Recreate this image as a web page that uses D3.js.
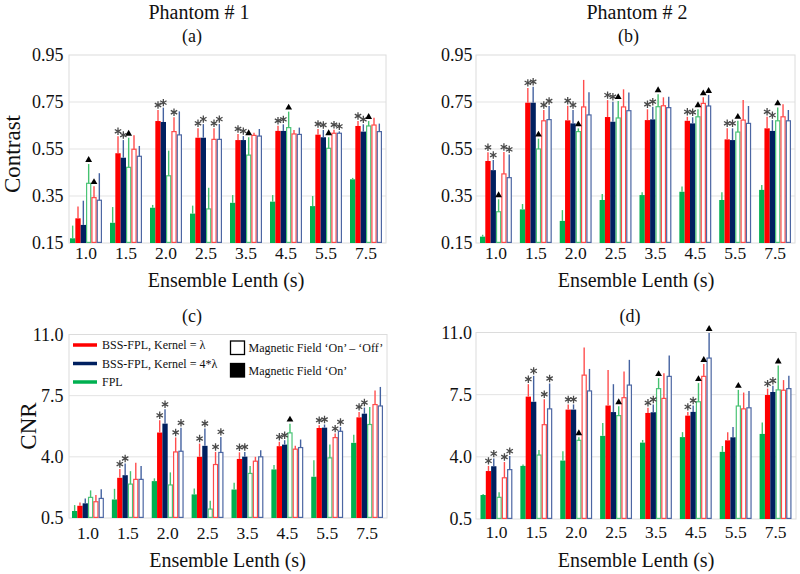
<!DOCTYPE html>
<html>
<head>
<meta charset="utf-8">
<script src="https://cdn.jsdelivr.net/npm/d3@7/dist/d3.min.js"></script>
<style>
  body { margin: 0; background: #fff; }
  svg { display: block; }
  text { font-family: "Liberation Serif", "Times New Roman", Times, "DejaVu Serif", serif; }
</style>
</head>
<body>
<script>
// ---------------- DATA ----------------
const categories = ["1.0", "1.5", "2.0", "2.5", "3.5", "4.5", "5.5", "7.5"];
// series order: FPL (On), BSS-FPL λ (On), BSS-FPL 4λ (On), FPL (On−Off), BSS-FPL λ (On−Off), BSS-FPL 4λ (On−Off)
const seriesNames = ["FPL On", "BSS-FPL λ On", "BSS-FPL 4*λ On", "FPL On–Off", "BSS-FPL λ On–Off", "BSS-FPL 4*λ On–Off"];

const contrastTicks = [0.15, 0.35, 0.55, 0.75, 0.95];
const cnrTicks = [0.5, 4.0, 7.5, 11.0];

// Panel (a): Contrast, Phantom #1
const aFplOn      = [0.170, 0.236, 0.300, 0.275, 0.321, 0.326, 0.307, 0.421];
const aBssLOn     = [0.255, 0.532, 0.669, 0.598, 0.588, 0.627, 0.611, 0.648];
const aBss4On     = [0.227, 0.513, 0.665, 0.598, 0.588, 0.627, 0.600, 0.624];
const aFplDiff    = [0.404, 0.472, 0.436, 0.295, 0.524, 0.641, 0.553, 0.648];
const aBssLDiff   = [0.343, 0.549, 0.624, 0.591, 0.608, 0.614, 0.617, 0.652];
const aBss4Diff   = [0.332, 0.519, 0.610, 0.591, 0.605, 0.612, 0.617, 0.624];
const aErrFplOn    = [0.054, 0.067, 0.012, 0.034, 0.033, 0.028, 0.043, 0.006];
const aErrBssLOn   = [0.050, 0.072, 0.047, 0.040, 0.026, 0.022, 0.024, 0.021];
const aErrBss4On   = [0.103, 0.075, 0.061, 0.058, 0.017, 0.028, 0.031, 0.031];
const aErrFplDiff  = [0.082, 0.126, 0.107, 0.090, 0.076, 0.068, 0.047, 0.021];
const aErrBssLDiff = [0.049, 0.059, 0.061, 0.047, 0.011, 0.017, 0.015, 0.031];
const aErrBss4Diff = [0.115, 0.044, 0.100, 0.065, 0.030, 0.029, 0.008, 0.034];
const aMarks = ["...^^.", ".**^..", ".**.*.", ".**.**", ".**^..", ".**^..", ".**^**", ".**^.."];

// Panel (b): Contrast, Phantom #2
const bFplOn      = [0.177, 0.293, 0.244, 0.333, 0.354, 0.368, 0.333, 0.376];
const bBssLOn     = [0.499, 0.747, 0.672, 0.686, 0.673, 0.670, 0.591, 0.638];
const bBss4On     = [0.460, 0.747, 0.659, 0.666, 0.676, 0.659, 0.588, 0.627];
const bFplDiff    = [0.283, 0.550, 0.624, 0.682, 0.730, 0.687, 0.622, 0.670];
const bBssLDiff   = [0.444, 0.670, 0.729, 0.729, 0.734, 0.744, 0.673, 0.687];
const bBss4Diff   = [0.428, 0.675, 0.695, 0.713, 0.726, 0.733, 0.659, 0.670];
const bErrFplOn    = [0.008, 0.023, 0.046, 0.025, 0.012, 0.022, 0.033, 0.021];
const bErrBssLOn   = [0.037, 0.063, 0.062, 0.072, 0.046, 0.017, 0.047, 0.049];
const bErrBss4On   = [0.043, 0.068, 0.057, 0.085, 0.054, 0.026, 0.050, 0.046];
const bErrFplDiff  = [0.053, 0.044, 0.014, 0.072, 0.053, 0.032, 0.048, 0.057];
const bErrBssLDiff = [0.093, 0.046, 0.115, 0.075, 0.036, 0.026, 0.085, 0.053];
const bErrBss4Diff = [0.099, 0.058, 0.096, 0.077, 0.046, 0.047, 0.074, 0.046];
const bMarks = [".**^**", ".**^**", ".**^..", ".**^..", ".**^..", ".**^^^", ".**^..", ".**^.."];

// Panel (c): CNR, Phantom #1
const cFplOn      = [0.90, 1.56, 2.61, 1.85, 2.13, 3.28, 2.86, 4.80];
const cBssLOn     = [1.20, 2.80, 5.39, 4.00, 3.88, 4.61, 5.65, 6.26];
const cBss4On     = [1.34, 2.95, 5.90, 4.63, 4.01, 4.70, 5.67, 6.47];
const cFplDiff    = [1.68, 2.44, 2.39, 1.01, 3.05, 5.37, 3.94, 5.85];
const cBssLDiff   = [1.43, 2.71, 4.28, 3.56, 3.75, 4.44, 5.10, 6.99];
const cBss4Diff   = [1.62, 2.71, 4.32, 4.25, 4.00, 4.53, 5.46, 6.91];
const cErrFplOn    = [0.34, 0.61, 0.16, 0.34, 0.38, 0.25, 0.95, 0.47];
const cErrBssLOn   = [0.19, 0.50, 0.70, 0.76, 0.38, 0.25, 0.16, 0.31];
const cErrBss4On   = [0.28, 0.67, 0.82, 0.99, 0.27, 0.25, 0.18, 0.35];
const cErrFplDiff  = [0.40, 0.74, 0.72, 0.48, 0.43, 0.53, 0.76, 1.00];
const cErrBssLDiff = [0.38, 0.95, 0.83, 0.72, 0.25, 0.19, 0.23, 0.81];
const cErrBss4Diff = [0.53, 0.77, 1.34, 0.89, 0.38, 0.46, 0.25, 1.09];
const cMarks = ["......", ".**...", ".**.**", ".**.**", ".**...", ".**^..", ".**.**", ".**..."];

// Panel (d): CNR, Phantom #2
const dFplOn      = [1.85, 3.49, 3.79, 5.18, 4.80, 5.11, 4.28, 5.29];
const dBssLOn     = [3.20, 7.39, 6.66, 6.89, 6.47, 6.32, 4.93, 7.48];
const dBss4On     = [3.47, 7.10, 6.66, 6.52, 6.51, 6.53, 5.10, 7.65];
const dFplDiff    = [1.72, 4.10, 4.93, 6.32, 7.84, 7.10, 6.86, 7.77];
const dBssLDiff   = [2.82, 5.81, 8.60, 7.33, 7.29, 8.53, 6.70, 7.75];
const dBss4Diff   = [3.28, 6.70, 7.71, 8.04, 8.53, 9.56, 6.76, 7.84];
const dErrFplOn    = [0.06, 0.08, 0.53, 0.72, 0.15, 0.28, 0.33, 0.65];
const dErrBssLOn   = [0.29, 0.70, 0.29, 2.00, 0.29, 0.21, 0.46, 0.36];
const dErrBss4On   = [0.43, 1.46, 0.29, 1.57, 0.44, 0.36, 0.58, 0.35];
const dErrFplDiff  = [0.28, 0.28, 0.17, 0.53, 0.59, 1.05, 0.91, 1.37];
const dErrBssLDiff = [0.89, 1.43, 1.55, 1.47, 1.41, 0.70, 0.92, 0.57];
const dErrBss4Diff = [0.76, 1.43, 1.24, 1.42, 1.18, 1.41, 0.95, 0.72];
const dMarks = [".**.**", ".**.**", ".**^..", "...^..", ".**^..", ".**^^^", "...^..", ".**^.."];

const legendLabels = ["BSS-FPL, Kernel = λ", "BSS-FPL, Kernel = 4*λ", "FPL"];
const legendBoxLabels = ["Magnetic Field ‘On’ – ‘Off’", "Magnetic Field ‘On’"];

// ---------------- STYLE ----------------
const FONT = '"Liberation Serif", "Times New Roman", Times, "DejaVu Serif", serif';
const fillColors   = ["#00b050", "#ff0000", "#002060"];
const strokeColors = ["#4cc477", "#ff4a4a", "#4d67a3"];
const errColors    = ["#45c270", "#ff4d4d", "#4462a0"];

// ---------------- LAYOUT ----------------
const panels = [
  { vals: [aFplOn, aBssLOn, aBss4On, aFplDiff, aBssLDiff, aBss4Diff],
    errs: [aErrFplOn, aErrBssLOn, aErrBss4On, aErrFplDiff, aErrBssLDiff, aErrBss4Diff],
    marks: aMarks, ticks: contrastTicks, fmt: d3.format(".2f"),
    left: 69, right: 386, bandL: 66, bandR: 386, top: 55, bottom: 243,
    xLabTop: 247, yLabRight: 63.5, ylabel: "Contrast", ylabX: 20, ylabY: 154,
    title: "Phantom # 1", titleX: 199, sub: "(a)", subX: 192, subY: 42,
    xTitleX: 226, xTitleY: 287 },
  { vals: [bFplOn, bBssLOn, bBss4On, bFplDiff, bBssLDiff, bBss4Diff],
    errs: [bErrFplOn, bErrBssLOn, bErrBss4On, bErrFplDiff, bErrBssLDiff, bErrBss4Diff],
    marks: bMarks, ticks: contrastTicks, fmt: d3.format(".2f"),
    left: 476, right: 795, bandL: 476, bandR: 795, top: 55, bottom: 243,
    xLabTop: 247, yLabRight: 472.5, ylabel: null,
    title: "Phantom # 2", titleX: 637, sub: "(b)", subX: 628.5, subY: 42,
    xTitleX: 636, xTitleY: 287 },
  { vals: [cFplOn, cBssLOn, cBss4On, cFplDiff, cBssLDiff, cBss4Diff],
    errs: [cErrFplOn, cErrBssLOn, cErrBss4On, cErrFplDiff, cErrBssLDiff, cErrBss4Diff],
    marks: cMarks, ticks: cnrTicks, fmt: d3.format(".1f"),
    left: 69, right: 387, bandL: 68, bandR: 387, top: 334.5, bottom: 518,
    xLabTop: 526.5, yLabRight: 63.5, ylabel: "CNR", ylabX: 36, ylabY: 426,
    title: null, sub: "(c)", subX: 192, subY: 322,
    xTitleX: 227.5, xTitleY: 567, legend: true },
  { vals: [dFplOn, dBssLOn, dBss4On, dFplDiff, dBssLDiff, dBss4Diff],
    errs: [dErrFplOn, dErrBssLOn, dErrBss4On, dErrFplDiff, dErrBssLDiff, dErrBss4Diff],
    marks: dMarks, ticks: cnrTicks, fmt: d3.format(".1f"),
    left: 476, right: 796, bandL: 476.5, bandR: 795.5, top: 332.5, bottom: 519,
    xLabTop: 525.5, yLabRight: 472, ylabel: null,
    title: null, sub: "(d)", subX: 630, subY: 322,
    xTitleX: 636, xTitleY: 567 }
];

const svg = d3.select("body").append("svg")
  .attr("width", 800).attr("height", 574)
  .style("font-family", FONT);

const asterisk = d3.symbol().type(d3.symbolAsterisk).size(38)();
const triangle = d3.symbol().type(d3.symbolTriangle).size(20)();

panels.forEach(p => {
  const g = svg.append("g");
  const x = d3.scaleBand().domain(categories).range([p.bandL, p.bandR])
    .paddingInner(0.2).paddingOuter(0.1);
  const xs = d3.scaleBand().domain(d3.range(6)).range([0, x.bandwidth()]);
  const y = d3.scaleLinear().domain([p.ticks[0], p.ticks[p.ticks.length - 1]])
    .range([p.bottom, p.top]);

  // gridlines
  g.append("g").selectAll("line").data(p.ticks.slice(1, -1)).join("line")
    .attr("x1", p.left).attr("x2", p.right)
    .attr("y1", d => y(d)).attr("y2", d => y(d))
    .attr("stroke", "#e3e3e3").attr("stroke-width", 1);
  // frame
  g.append("rect").attr("x", p.left).attr("y", p.top)
    .attr("width", p.right - p.left).attr("height", p.bottom - p.top)
    .attr("fill", "none").attr("stroke", "#dcdcdc").attr("stroke-width", 1);

  // y axis labels
  const ya = g.append("g").attr("transform", `translate(${p.left},0)`)
    .call(d3.axisLeft(y).tickValues(p.ticks).tickSize(0)
      .tickPadding(p.left - p.yLabRight).tickFormat(p.fmt));
  ya.attr("font-family", FONT);
  ya.select(".domain").remove();
  ya.selectAll("text").style("font-family", FONT)
    .attr("font-size", 18).attr("fill", "#111");

  // x axis labels
  const xa = g.append("g").attr("transform", `translate(0,${p.bottom})`)
    .call(d3.axisBottom(x).tickSize(0).tickPadding(p.xLabTop - p.bottom));
  xa.attr("font-family", FONT);
  xa.select(".domain").remove();
  xa.selectAll("text").style("font-family", FONT)
    .attr("font-size", 17.5).attr("fill", "#111");

  // bars
  const rows = [];
  categories.forEach((c, ci) => {
    for (let s = 0; s < 6; s++) {
      rows.push({ c, ci, s, v: p.vals[s][ci], e: p.errs[s][ci], m: p.marks[ci][s] });
    }
  });

  const bw = xs.bandwidth();
  g.append("g").selectAll("rect").data(rows).join("rect")
    .attr("x", d => x(d.c) + xs(d.s) + (d.s >= 3 ? 0.6 : 0))
    .attr("y", d => y(d.v))
    .attr("width", d => bw - (d.s >= 3 ? 1.2 : 0))
    .attr("height", d => p.bottom - y(d.v) - (d.s >= 3 ? 0.6 : 0))
    .attr("fill", d => d.s < 3 ? fillColors[d.s] : "#fff")
    .attr("stroke", d => d.s < 3 ? "none" : strokeColors[d.s - 3])
    .attr("stroke-width", 1.2);

  // error bars (upper only)
  g.append("g").selectAll("line").data(rows).join("line")
    .attr("x1", d => x(d.c) + xs(d.s) + bw / 2)
    .attr("x2", d => x(d.c) + xs(d.s) + bw / 2)
    .attr("y1", d => y(d.v))
    .attr("y2", d => y(d.v + d.e))
    .attr("stroke", d => errColors[d.s % 3])
    .attr("stroke-width", 1.4);

  // significance markers
  const mk = rows.filter(d => d.m !== ".");
  g.append("g").selectAll("path").data(mk).join("path")
    .attr("d", d => d.m === "*" ? asterisk : triangle)
    .attr("transform", d => `translate(${x(d.c) + xs(d.s) + bw / 2},${y(d.v + d.e) - (d.m === "*" ? 5 : 4)})`)
    .attr("fill", d => d.m === "*" ? "none" : "#000")
    .attr("stroke", d => d.m === "*" ? "#4a4a4a" : "none")
    .attr("stroke-width", 1.3);

  // titles
  if (p.title) {
    svg.append("text").attr("x", p.titleX).attr("y", 18.5).attr("text-anchor", "middle")
      .attr("font-size", 20).attr("fill", "#111").text(p.title);
  }
  svg.append("text").attr("x", p.subX).attr("y", p.subY).attr("text-anchor", "middle")
    .attr("font-size", 18).attr("fill", "#111").text(p.sub);
  svg.append("text").attr("x", p.xTitleX).attr("y", p.xTitleY).attr("text-anchor", "middle")
    .attr("font-size", 20).attr("fill", "#111").text("Ensemble Lenth (s)");
  if (p.ylabel) {
    svg.append("text").attr("transform", `translate(${p.ylabX},${p.ylabY}) rotate(-90)`)
      .attr("text-anchor", "middle").attr("font-size", 23).attr("fill", "#111").text(p.ylabel);
  }

  // legend
  if (p.legend) {
    const lg = svg.append("g");
    const lineColors = [fillColors[1], fillColors[2], fillColors[0]];
    const ly = [345, 363.5, 382];
    legendLabels.forEach((t, i) => {
      lg.append("line").attr("x1", 73).attr("x2", 97).attr("y1", ly[i]).attr("y2", ly[i])
        .attr("stroke", lineColors[i]).attr("stroke-width", 3.5);
      lg.append("text").attr("x", 102).attr("y", ly[i] + 4).attr("font-size", 12)
        .attr("fill", "#111").text(t);
    });
    const by = [341, 363.5];
    legendBoxLabels.forEach((t, i) => {
      lg.append("rect").attr("x", 230.5).attr("y", by[i]).attr("width", 14).attr("height", 13.5)
        .attr("fill", i === 0 ? "#fff" : "#000").attr("stroke", "#000").attr("stroke-width", 1.3);
      lg.append("text").attr("x", 248.5).attr("y", by[i] + 11).attr("font-size", 12)
        .attr("fill", "#111").text(t);
    });
  }
});
</script>
</body>
</html>
